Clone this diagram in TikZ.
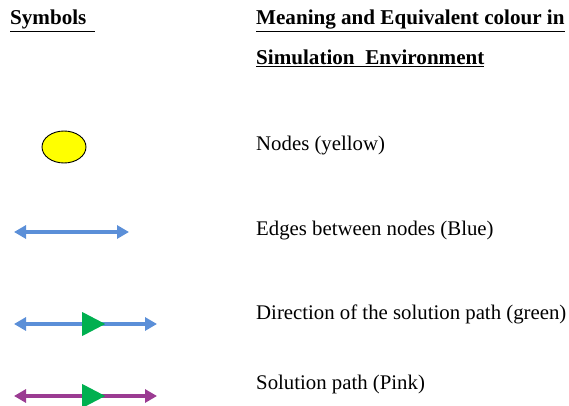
\documentclass[tikz,border=0pt]{standalone}
\usepackage{fontspec}
\setmainfont{Liberation Serif}
\usetikzlibrary{arrows.meta,shapes.geometric}
\definecolor{edgeblue}{HTML}{5B8FD8}
\definecolor{pathpink}{HTML}{9B3B92}
\definecolor{dirgreen}{HTML}{00B050}
\definecolor{nodeyellow}{HTML}{FFFF00}
\begin{document}
\begin{tikzpicture}[x=1pt,y=-1pt,
  txt/.style={anchor=base west,inner sep=0pt,font=\fontsize{20.8}{25}\selectfont},
  head/.style={anchor=base west,inner sep=0pt,font=\fontsize{21.1}{25}\selectfont\bfseries},
  link/.style={line width=3.2pt,{Triangle[length=12pt,width=13pt]}-{Triangle[length=12pt,width=13pt]}},
  dirmark/.style={isosceles triangle,isosceles triangle stretches,fill=dirgreen,
    minimum height=23pt,minimum width=24pt,inner sep=0pt}]
\useasboundingbox (0,0) rectangle (569,406);
% headings
\node [head] (sym) at (10,25) {\underline{Symbols\ \,}};
\node [head] (mean) at (256,25) {\underline{Meaning and Equivalent colour in}};
\node [head] (sim) at (256,65) {\underline{Simulation\ \ Environment}};
% nodes
\node [ellipse,draw,fill=nodeyellow,line width=0.9pt,minimum width=44pt,minimum height=32pt,inner sep=0pt] (nd) at (64,147) {};
\node [txt] (ndtxt) at (256,150) {Nodes (yellow)};
% edges
\coordinate (e1) at (14,232);
\coordinate (e2) at (129,232);
\draw [link,edgeblue] (e1) -- (e2);
\node [txt] (edtxt) at (256,235) {Edges between nodes (Blue)};
% direction
\coordinate (d1) at (14,324);
\coordinate (d2) at (157,324);
\draw [link,edgeblue] (d1) -- (d2);
\node [dirmark] (dm) at (89.5,324) {};
\node [txt] (dtxt) at (256,319) {Direction of the solution path (green)};
% solution path
\coordinate (s1) at (14,396);
\coordinate (s2) at (157,396);
\draw [link,pathpink] (s1) -- (s2);
\node [dirmark] (sm) at (89.5,396) {};
\node [txt] (stxt) at (256,389) {Solution path (Pink)};
\end{tikzpicture}
\end{document}
